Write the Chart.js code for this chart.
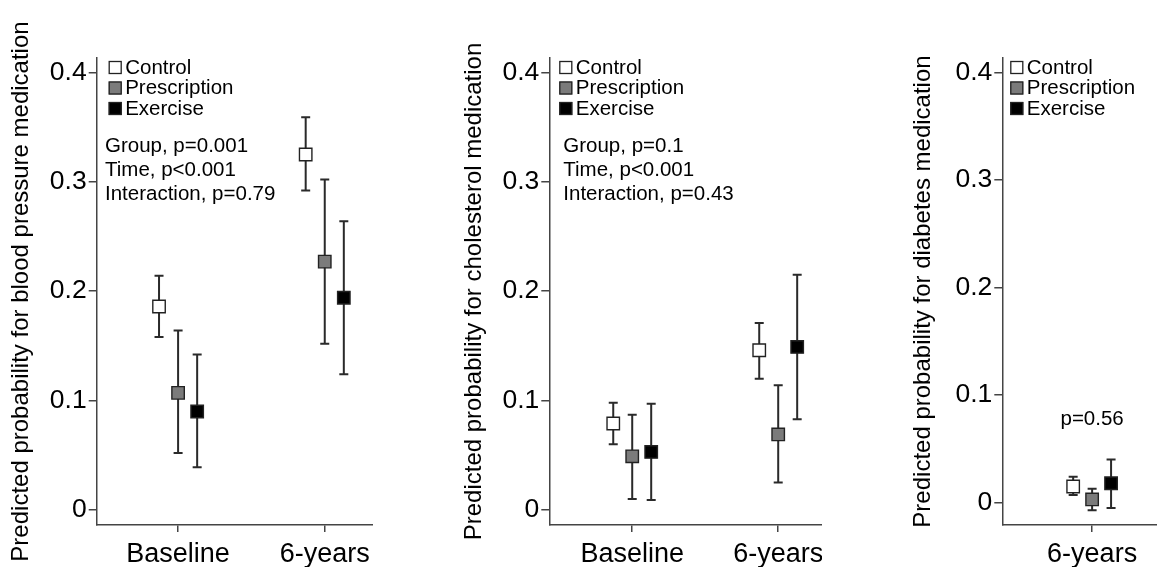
<!DOCTYPE html>
<html><head><meta charset="utf-8">
<script src="https://cdn.jsdelivr.net/npm/chart.js@4.4.1/dist/chart.umd.min.js"></script>
<style>
html,body{margin:0;padding:0;background:#fff;width:1157px;height:567px;overflow:hidden}
canvas{position:absolute;top:0}
</style></head><body>
<canvas id="c1" width="373" height="567" style="left:0px"></canvas>
<canvas id="c2" width="369" height="567" style="left:453px"></canvas>
<canvas id="c3" width="255" height="567" style="left:902px"></canvas>
<script>
// ---------- data ----------
const groups = ['Control', 'Prescription', 'Exercise'];
const yTicks = [0, 0.1, 0.2, 0.3, 0.4];
const yTickLabels = ['0', '0.1', '0.2', '0.3', '0.4'];

// Blood pressure medication
const bpCategories = ['Baseline', '6-years'];
const bpControl = [0.186, 0.325];
const bpControlLo = [0.158, 0.292];
const bpControlHi = [0.214, 0.359];
const bpPrescription = [0.107, 0.227];
const bpPrescriptionLo = [0.052, 0.152];
const bpPrescriptionHi = [0.164, 0.302];
const bpExercise = [0.090, 0.194];
const bpExerciseLo = [0.039, 0.124];
const bpExerciseHi = [0.142, 0.264];
const bpStats = ['Group, p=0.001', 'Time, p<0.001', 'Interaction, p=0.79'];

// Cholesterol medication
const cholCategories = ['Baseline', '6-years'];
const cholControl = [0.079, 0.146];
const cholControlLo = [0.060, 0.120];
const cholControlHi = [0.098, 0.171];
const cholPrescription = [0.049, 0.069];
const cholPrescriptionLo = [0.010, 0.025];
const cholPrescriptionHi = [0.087, 0.114];
const cholExercise = [0.053, 0.149];
const cholExerciseLo = [0.009, 0.083];
const cholExerciseHi = [0.097, 0.215];
const cholStats = ['Group, p=0.1', 'Time, p<0.001', 'Interaction, p=0.43'];

// Diabetes medication
const diabCategories = ['6-years'];
const diabControl = [0.015];
const diabControlLo = [0.007];
const diabControlHi = [0.024];
const diabPrescription = [0.003];
const diabPrescriptionLo = [-0.007];
const diabPrescriptionHi = [0.013];
const diabExercise = [0.018];
const diabExerciseLo = [-0.005];
const diabExerciseHi = [0.040];
const diabStats = ['p=0.56'];

// ---------- styles ----------
const FONT = "'Liberation Sans', Arial, Helvetica, sans-serif";
Chart.defaults.font.family = FONT;
const AXIS = '#444';
const BAR = '#2a2a2a';
const fills = ['#ffffff', '#7b7b7b', '#000000'];
const offsets = [-0.13, 0, 0.13];

const errorBars = {
  id: 'errorBars',
  beforeDatasetsDraw(chart) {
    const ctx = chart.ctx, ys = chart.scales.y;
    chart.data.datasets.forEach((ds, di) => {
      const meta = chart.getDatasetMeta(di);
      meta.data.forEach((pt, i) => {
        const x = pt.x;
        const yl = ys.getPixelForValue(ds.errLo[i]);
        const yh = ys.getPixelForValue(ds.errHi[i]);
        ctx.save();
        ctx.strokeStyle = BAR; ctx.lineWidth = 2;
        ctx.beginPath();
        ctx.moveTo(x, yl); ctx.lineTo(x, yh);
        ctx.moveTo(x - 4.5, yl); ctx.lineTo(x + 4.5, yl);
        ctx.moveTo(x - 4.5, yh); ctx.lineTo(x + 4.5, yh);
        ctx.stroke();
        ctx.restore();
      });
    });
  }
};

const panelText = {
  id: 'panelText',
  afterDraw(chart, args, o) {
    const ctx = chart.ctx, ca = chart.chartArea;
    ctx.save();
    // legend
    ctx.font = '20.5px ' + FONT;
    ctx.textBaseline = 'middle';
    ctx.textAlign = 'left';
    groups.forEach((g, i) => {
      const cy = 67.5 + i * 20.5;
      const bx = ca.left + o.legendDx;
      ctx.fillStyle = fills[i];
      ctx.fillRect(bx, cy - 6.5, 13, 13);
      ctx.strokeStyle = '#222'; ctx.lineWidth = 1.3;
      ctx.strokeRect(bx + 0.5, cy - 6, 12, 12);
      ctx.fillStyle = '#000';
      ctx.fillText(g, bx + 16.5, cy + 0.5);
    });
    // stats
    ctx.font = '20.5px ' + FONT;
    if (o.center) {
      ctx.textAlign = 'center';
      const x = chart.scales.x.getPixelForValue(1);
      o.lines.forEach((t, i) => ctx.fillText(t, x, o.top + i * 24));
    } else {
      o.lines.forEach((t, i) => ctx.fillText(t, ca.left + o.annDx, o.top + i * 24));
    }
    ctx.restore();
  }
};

function makePanel(id, categories, series, title, geo, stats) {
  const datasets = series.map((s, gi) => ({
    label: groups[gi],
    data: s.mean.map((v, i) => ({ x: i + 1 + offsets[gi], y: v })),
    errLo: s.lo, errHi: s.hi,
    pointStyle: 'rect',
    pointRadius: 8.8,
    pointHoverRadius: 8.8,
    backgroundColor: fills[gi],
    borderColor: '#222',
    borderWidth: 1.4,
    showLine: false
  }));
  return new Chart(document.getElementById(id), {
    type: 'scatter',
    data: { datasets },
    plugins: [errorBars, panelText],
    options: {
      responsive: false,
      animation: false,
      events: [],
      layout: { autoPadding: false, padding: { top: 58, left: 0, right: 0, bottom: 0 } },
      plugins: {
        legend: { display: false },
        tooltip: { enabled: false },
        panelText: stats
      },
      scales: {
        x: {
          type: 'linear', min: geo.xmin, max: geo.xmax,
          afterBuildTicks: s => { s.ticks = categories.map((c, i) => ({ value: i + 1 })); },
          afterFit: s => { s.height = 42; s.paddingLeft = 0; s.paddingRight = 0; },
          ticks: { callback: (v, i) => categories[i], font: { size: 27 }, color: '#000', padding: 6, autoSkip: false, maxRotation: 0 },
          grid: { display: true, drawOnChartArea: false, drawTicks: true, tickLength: 7, color: AXIS, lineWidth: 1.5 },
          border: { display: true, color: AXIS, width: 1.5 }
        },
        y: {
          min: geo.ymin, max: geo.ymax,
          afterBuildTicks: s => { s.ticks = yTicks.map(v => ({ value: v })); },
          afterFit: s => { s.width = geo.yw; s.paddingTop = 0; s.paddingBottom = 0; },
          ticks: { callback: (v, i) => yTickLabels[i], font: { size: 26.5 }, color: '#000', padding: 2 },
          grid: { display: true, drawOnChartArea: false, drawTicks: true, tickLength: 8, color: AXIS, lineWidth: 1.5 },
          border: { display: true, color: AXIS, width: 1.5 },
          title: { display: true, text: title, font: { size: 24 }, color: '#000', padding: { top: 7, bottom: 0 } }
        }
      }
    }
  });
}

makePanel('c1', bpCategories, [
  { mean: bpControl, lo: bpControlLo, hi: bpControlHi },
  { mean: bpPrescription, lo: bpPrescriptionLo, hi: bpPrescriptionHi },
  { mean: bpExercise, lo: bpExerciseLo, hi: bpExerciseHi }
], 'Predicted probability for blood pressure medication',
  { xmin: 0.445, xmax: 2.329, ymin: -0.0138, ymax: 0.4132, yw: 96.7 },
  { legendDx: 12, annDx: 8.3, top: 146, lines: bpStats, center: false });

makePanel('c2', cholCategories, [
  { mean: cholControl, lo: cholControlLo, hi: cholControlHi },
  { mean: cholPrescription, lo: cholPrescriptionLo, hi: cholPrescriptionHi },
  { mean: cholExercise, lo: cholExerciseLo, hi: cholExerciseHi }
], 'Predicted probability for cholesterol medication',
  { xmin: 0.432, xmax: 2.30, ymin: -0.0138, ymax: 0.4132, yw: 96.3 },
  { legendDx: 10, annDx: 14, top: 146, lines: cholStats, center: false });

makePanel('c3', diabCategories, [
  { mean: diabControl, lo: diabControlLo, hi: diabControlHi },
  { mean: diabPrescription, lo: diabPrescriptionLo, hi: diabPrescriptionHi },
  { mean: diabExercise, lo: diabExerciseLo, hi: diabExerciseHi }
], 'Predicted probability for diabetes medication',
  { xmin: 0.384, xmax: 1.445, ymin: -0.0208, ymax: 0.4134, yw: 100.3 },
  { legendDx: 8, annDx: 0, top: 419, lines: diabStats, center: true });
</script>
</body></html>
